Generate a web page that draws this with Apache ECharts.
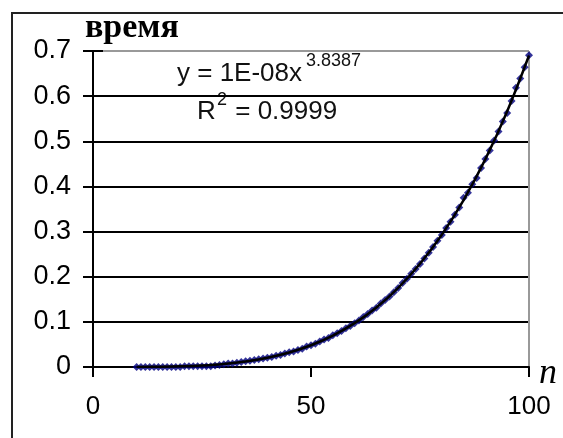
<!DOCTYPE html>
<html>
<head>
<meta charset="utf-8">
<script src="https://cdn.jsdelivr.net/npm/echarts@6/dist/echarts.min.js"></script>
<style>
html,body{margin:0;padding:0;background:#fff;}
#chart{width:563px;height:438px;}
</style>
</head>
<body>
<div id="chart"></div>
<script>
// Measured points: n (problem size) and time
var nValues = [10,11,12,13,14,15,16,17,18,19,20,21,22,23,24,25,26,27,28,29,30,31,32,33,34,35,36,37,38,39,40,41,42,43,44,45,46,47,48,49,50,51,52,53,54,55,56,57,58,59,60,61,62,63,64,65,66,67,68,69,70,71,72,73,74,75,76,77,78,79,80,81,82,83,84,85,86,87,88,89,90,91,92,93,94,95,96,97,98,99,100];
var timeValues = [0,0,0,0,0,0,0,0,0,0,0,0.0016,0.0016,0.0016,0.0016,0.0016,0.0016,0.0016,0.0031,0.0047,0.0063,0.0078,0.0078,0.0094,0.0109,0.0125,0.0141,0.0156,0.0172,0.0188,0.0203,0.0219,0.0250,0.0266,0.0297,0.0328,0.0344,0.0375,0.0406,0.0453,0.0484,0.0516,0.0563,0.0609,0.0641,0.0703,0.0750,0.0797,0.0859,0.0906,0.0969,0.1031,0.1109,0.1172,0.1250,0.1313,0.1406,0.1484,0.1563,0.1656,0.1750,0.1859,0.1953,0.2063,0.2172,0.2281,0.2406,0.2531,0.2656,0.2797,0.2922,0.3078,0.3219,0.3375,0.3531,0.3750,0.3859,0.4047,0.4188,0.4406,0.4609,0.4797,0.5016,0.5219,0.5438,0.5625,0.5891,0.6188,0.6391,0.6641,0.6906];
// Trend line (power fit)
var trendN = [10,15,20,25,30,35,40,45,50,55,60,65,70,75,80,85,90,95,100];
var trendT = [0.0001,0.0005,0.0014,0.0034,0.0068,0.0123,0.0205,0.0322,0.0482,0.0696,0.0971,0.1320,0.1755,0.2287,0.2930,0.3698,0.4604,0.5667,0.6900];
// Axis ticks and texts
var xTicks = [0, 50, 100];
var yTicks = [0, 0.1, 0.2, 0.3, 0.4, 0.5, 0.6, 0.7];
var yTitle = 'время';
var xTitle = 'n';
var eqMain = 'y = 1E-08x';
var eqExp = '3.8387';
var r2Main = 'R';
var r2Exp = '2';
var r2Rest = ' = 0.9999';

var pts = nValues.map(function (n, i) { return [n, timeValues[i]]; });
var trend = trendN.map(function (n, i) { return [n, trendT[i]]; });

var font = 'Liberation Sans, Arial, sans-serif';
var chart = echarts.init(document.getElementById('chart'), null, {renderer: 'canvas'});
chart.setOption({
  animation: false,
  backgroundColor: '#fff',
  grid: {left: 93, right: 34, top: 51, bottom: 71, containLabel: false},
  xAxis: {
    type: 'value', min: xTicks[0], max: xTicks[xTicks.length - 1], interval: 50,
    axisLine: {show: true, onZero: false, lineStyle: {color: '#000', width: 2}},
    axisTick: {show: true, inside: false, length: 10, lineStyle: {color: '#000', width: 2}},
    axisLabel: {color: '#000', fontFamily: font, fontSize: 26, margin: 27},
    splitLine: {show: true, lineStyle: {color: ['rgba(0,0,0,0)', 'rgba(0,0,0,0)', '#999'], width: 2}}
  },
  yAxis: [{
    type: 'value', min: yTicks[0], max: yTicks[yTicks.length - 1], interval: 0.1,
    axisLine: {show: true, onZero: false, lineStyle: {color: '#000', width: 2}},
    axisTick: {show: true, inside: false, length: 10, lineStyle: {color: '#000', width: 2}},
    axisLabel: {color: '#000', fontFamily: font, fontSize: 27, margin: 22,
      formatter: function (v) { return String(Math.round(v * 10) / 10); }},
    splitLine: {show: true, lineStyle: {color: ['#000', '#000', '#000', '#000', '#000', '#000', '#000', '#999'], width: 2}}
  }, {
    type: 'value', position: 'left', min: yTicks[0], max: yTicks[yTicks.length - 1], interval: 0.1,
    axisLine: {show: false},
    axisTick: {show: true, inside: true, length: 10, lineStyle: {color: '#000', width: 2}},
    axisLabel: {show: false},
    splitLine: {show: false}
  }],
  series: [{
    type: 'scatter', data: pts, symbol: 'diamond', symbolSize: 8,
    itemStyle: {color: '#000080'}, z: 2
  }, {
    type: 'line', data: trend, smooth: 0.4, showSymbol: false,
    lineStyle: {color: '#000', width: 2.5}, z: 3
  }],
  graphic: [
    {type: 'rect', shape: {x: 12, y: 13, width: 700, height: 600}, style: {fill: 'none', stroke: '#222', lineWidth: 2}, silent: true, z: -1},
    {type: 'text', left: 85, top: 11, style: {text: yTitle, fill: '#000', font: 'bold 34px "Liberation Serif", "Times New Roman", serif'}},
    {type: 'text', x: 539, y: 356, style: {text: xTitle, fill: '#000', font: 'italic 36px "Liberation Serif", "Times New Roman", serif', verticalAlign: 'top'}},
    {type: 'text', x: 177, y: 74, style: {text: eqMain, fill: '#111', font: '26px "Liberation Sans", Arial, sans-serif', verticalAlign: 'middle'}},
    {type: 'text', x: 306, y: 61, style: {text: eqExp, fill: '#111', font: '18px "Liberation Sans", Arial, sans-serif', verticalAlign: 'middle'}},
    {type: 'text', x: 197, y: 112, style: {text: r2Main, fill: '#111', font: '26px "Liberation Sans", Arial, sans-serif', verticalAlign: 'middle'}},
    {type: 'text', x: 217, y: 100, style: {text: r2Exp, fill: '#111', font: '18px "Liberation Sans", Arial, sans-serif', verticalAlign: 'middle'}},
    {type: 'text', x: 228, y: 112, style: {text: r2Rest, fill: '#111', font: '26px "Liberation Sans", Arial, sans-serif', verticalAlign: 'middle'}}
  ]
});
</script>
</body>
</html>
